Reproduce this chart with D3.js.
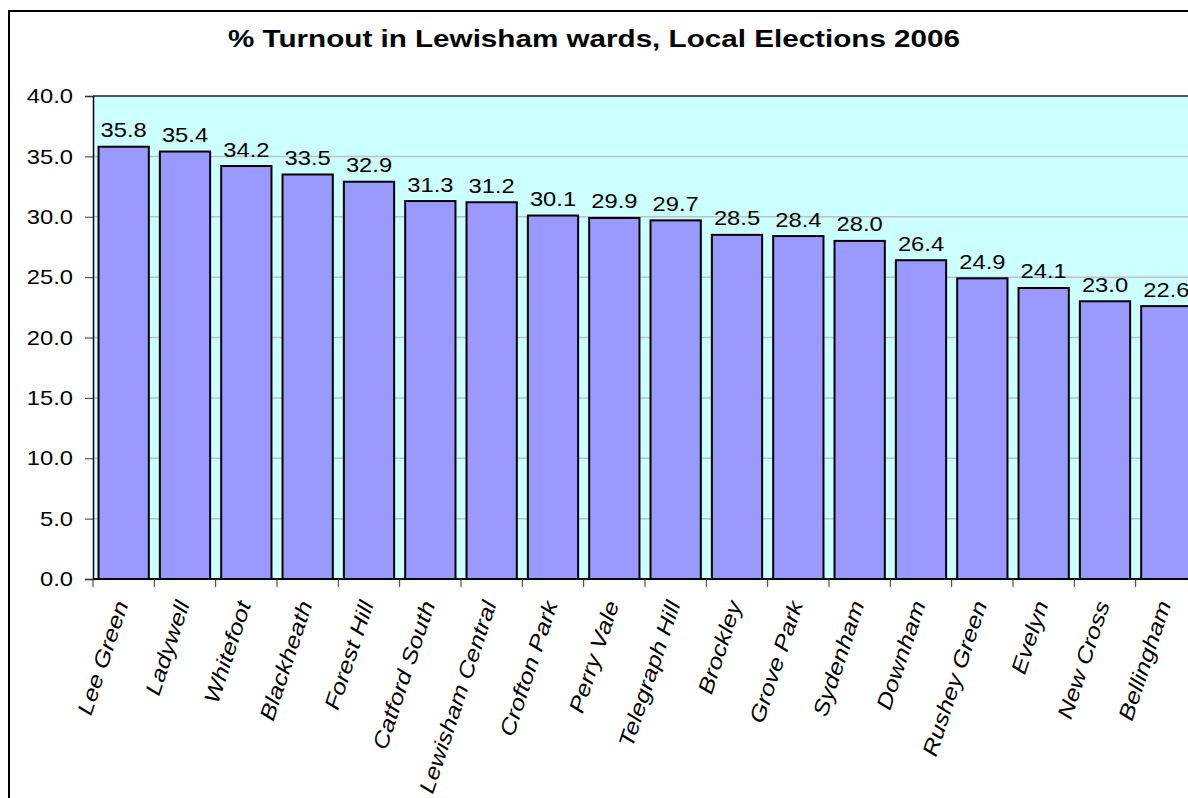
<!DOCTYPE html>
<html>
<head>
<meta charset="utf-8">
<script src="https://cdn.jsdelivr.net/npm/d3@7"></script>
<style>
  html, body { margin: 0; padding: 0; background: #fff; }
  svg { display: block; font-family: "Liberation Sans", Arial, sans-serif; }
</style>
</head>
<body>
<svg id="chart" width="1188" height="798"></svg>
<script>
// Ward turnout figures, sorted from highest to lowest
const wards = ["Lee Green", "Ladywell", "Whitefoot", "Blackheath", "Forest Hill",
  "Catford South", "Lewisham Central", "Crofton Park", "Perry Vale", "Telegraph Hill",
  "Brockley", "Grove Park", "Sydenham", "Downham", "Rushey Green", "Evelyn",
  "New Cross", "Bellingham"];
const turnout = [35.8, 35.4, 34.2, 33.5, 32.9, 31.3, 31.2, 30.1, 29.9, 29.7,
  28.5, 28.4, 28.0, 26.4, 24.9, 24.1, 23.0, 22.6];
const yTicks = [0, 5, 10, 15, 20, 25, 30, 35, 40];
const title = "% Turnout in Lewisham wards, Local Elections 2006";

const svg = d3.select("#chart");
const plot = { left: 93, top: 96, right: 1197, bottom: 579 };
const fontSize = 21;
const stretch = 1.13; // wide horizontal letterforms

// Outer chart frame
svg.append("rect")
  .attr("x", 9).attr("y", 11)
  .attr("width", 1200).attr("height", 800)
  .attr("fill", "#fff").attr("stroke", "#000").attr("stroke-width", 2);

svg.append("text")
  .attr("x", 594).attr("y", 47)
  .attr("text-anchor", "middle")
  .attr("font-size", 23.5).attr("font-weight", "bold")
  .attr("textLength", 732).attr("lengthAdjust", "spacingAndGlyphs")
  .text(title);

const x = d3.scaleBand()
  .domain(wards)
  .range([plot.left, plot.right])
  .paddingInner(0.18)
  .paddingOuter(0.09);

const y = d3.scaleLinear().domain([0, 40]).range([plot.bottom, plot.top]);

// Plot background
svg.append("rect")
  .attr("x", plot.left).attr("y", plot.top)
  .attr("width", plot.right - plot.left).attr("height", plot.bottom - plot.top)
  .attr("fill", "#CCFFFF");

// Horizontal gridlines
svg.append("g").selectAll("line")
  .data(yTicks.filter(d => d > 0 && d < 40))
  .join("line")
  .attr("x1", plot.left).attr("x2", plot.right)
  .attr("y1", d => y(d)).attr("y2", d => y(d))
  .attr("stroke", "#C0C0C0").attr("stroke-width", 1.5);

// Plot area top edge
svg.append("line")
  .attr("x1", plot.left).attr("x2", plot.right)
  .attr("y1", plot.top).attr("y2", plot.top)
  .attr("stroke", "#222").attr("stroke-width", 1.5);

// Bars
svg.append("g").selectAll("rect")
  .data(wards)
  .join("rect")
  .attr("x", d => x(d))
  .attr("width", x.bandwidth())
  .attr("y", (d, i) => y(turnout[i]))
  .attr("height", (d, i) => y(0) - y(turnout[i]))
  .attr("fill", "#9999FF")
  .attr("stroke", "#000").attr("stroke-width", 2);

// Value labels
svg.append("g").selectAll("text")
  .data(wards)
  .join("text")
  .attr("transform", (d, i) =>
    `translate(${x(d) + x.bandwidth() / 2},${y(turnout[i]) - 9.5}) scale(${stretch},1)`)
  .attr("text-anchor", "middle")
  .attr("font-size", fontSize)
  .text((d, i) => turnout[i].toFixed(1));

// Y axis
const yAxis = d3.axisLeft(y)
  .tickValues(yTicks)
  .tickFormat(d3.format(".1f"))
  .tickSize(8)
  .tickPadding(12);
const gy = svg.append("g")
  .attr("transform", `translate(${plot.left},0)`)
  .call(yAxis);
gy.select(".domain").attr("stroke", "#000").attr("stroke-width", 1.5);
gy.selectAll(".tick line").attr("stroke", "#333");
gy.selectAll(".tick text")
  .attr("x", 0)
  .attr("transform", `translate(-20,0) scale(${stretch},1)`)
  .attr("font-size", fontSize).attr("font-family", "Liberation Sans, Arial, sans-serif")
  .attr("fill", "#000");

// X axis line and category ticks at band boundaries
svg.append("line")
  .attr("x1", plot.left).attr("x2", plot.right)
  .attr("y1", plot.bottom).attr("y2", plot.bottom)
  .attr("stroke", "#000").attr("stroke-width", 2);

svg.append("g").selectAll("line")
  .data(wards)
  .join("line")
  .attr("x1", d => x(d) - x.step() * x.paddingOuter())
  .attr("x2", d => x(d) - x.step() * x.paddingOuter())
  .attr("y1", plot.bottom).attr("y2", plot.bottom + 8)
  .attr("stroke", "#333");

// Rotated italic category labels
svg.append("g").selectAll("text")
  .data(wards)
  .join("text")
  .attr("transform", d =>
    `translate(${x(d) + x.bandwidth() / 2 + 5},${plot.bottom + 25}) rotate(-71.5) scale(${stretch + 0.04},1)`)
  .attr("text-anchor", "end")
  .attr("font-size", fontSize + 0.5)
  .attr("font-style", "italic")
  .text(d => d);
</script>
</body>
</html>
